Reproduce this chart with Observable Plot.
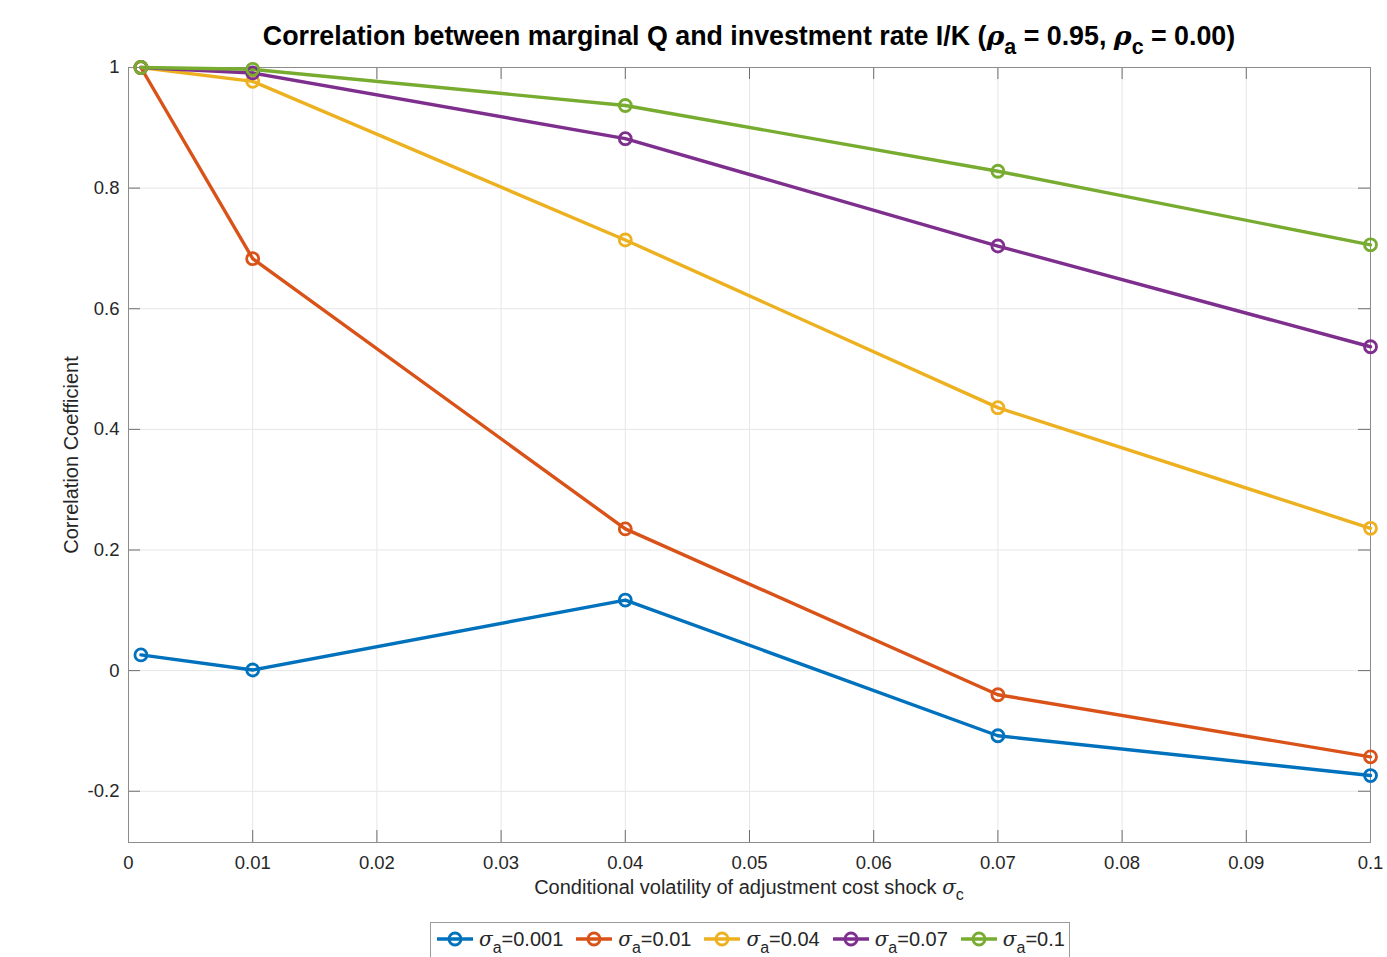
<!DOCTYPE html>
<html>
<head>
<meta charset="utf-8">
<script src="https://cdn.jsdelivr.net/npm/d3@7"></script>
<script src="https://cdn.jsdelivr.net/npm/@observablehq/plot@0.6"></script>
<style>
  html, body { margin: 0; padding: 0; background: #fff; }
  body { font-family: "Liberation Sans", Arial, Helvetica, sans-serif; color: #262626; }
  #wrap { position: relative; width: 1387px; height: 957px; overflow: hidden; }
  #title { position: absolute; left: 128px; width: 1242px; top: 20px; text-align: center; z-index: 2;
           font-weight: bold; font-size: 26.8px; line-height: 32px; color: #000; white-space: nowrap; }
  #chart { position: absolute; left: 0; top: 50px; z-index: 1; }
  #xlabel { position: absolute; left: 128px; width: 1242px; top: 875px; text-align: center;
            font-size: 20px; line-height: 24px; color: #262626; white-space: nowrap; }
  .g { font-family: "DejaVu Serif", "Liberation Serif", serif; font-style: italic; }
  .sb { position: relative; top: 0.4em; font-size: 0.8em; }
  #legend { position: absolute; left: 430px; top: 922px; height: 40px; border: 1px solid #9a9a9a;
            background: #fff; display: flex; align-items: flex-start; padding: 0 4px; box-sizing: border-box; }
  .item { display: flex; align-items: center; margin-right: 11px; height: 32px; font-size: 20px; white-space: nowrap; }
  .item:last-child { margin-right: 0; }
  .item svg { margin-right: 4px; }
  .item .sb { top: 0.45em; }
</style>
</head>
<body>
<div id="wrap">
  <div id="title">Correlation between marginal Q and investment rate I/K (<span class="g">ρ</span><span class="sb">a</span> = 0.95, <span class="g">ρ</span><span class="sb">c</span> = 0.00)</div>
  <div id="chart"></div>
  <div id="xlabel">Conditional volatility of adjustment cost shock <span class="g">σ</span><span class="sb">c</span></div>
  <div id="legend"></div>
</div>
<script>
// Conditional volatility of the adjustment cost shock (x axis)
const sigmaC = [0.001, 0.01, 0.04, 0.07, 0.1];

// Correlation between marginal Q and I/K, one series per productivity volatility sigma_a
const corrSigmaA0001 = [0.026, 0.001, 0.117, -0.108, -0.174];
const corrSigmaA001  = [1.000, 0.683, 0.235, -0.040, -0.143];
const corrSigmaA004  = [1.000, 0.977, 0.714, 0.436, 0.236];
const corrSigmaA007  = [1.000, 0.991, 0.882, 0.704, 0.537];
const corrSigmaA01   = [1.000, 0.997, 0.937, 0.828, 0.706];

const seriesLabels = ["0.001", "0.01", "0.04", "0.07", "0.1"];
const seriesColors = ["#0072BD", "#D95319", "#EDB120", "#7E2F8E", "#77AC30"];

const xTicks = [0, 0.01, 0.02, 0.03, 0.04, 0.05, 0.06, 0.07, 0.08, 0.09, 0.1];
const yTicks = [-0.2, 0, 0.2, 0.4, 0.6, 0.8, 1];

const allSeries = [corrSigmaA0001, corrSigmaA001, corrSigmaA004, corrSigmaA007, corrSigmaA01];
const rows = allSeries.flatMap((vals, s) =>
  vals.map((v, i) => ({x: sigmaC[i], y: v, series: seriesLabels[s]})));

const W = 1387, H = 825;
const mTop = 17, mBottom = 33, mLeft = 128, mRight = 17;
const innerH = H - mTop - mBottom;
const innerW = W - mLeft - mRight;
const tickLen = 12;
const fmt = d => String(+d.toFixed(2));

const chart = Plot.plot({
  width: W, height: H,
  marginTop: mTop, marginBottom: mBottom, marginLeft: mLeft, marginRight: mRight,
  style: {fontFamily: '"Liberation Sans", Arial, Helvetica, sans-serif', fontSize: "18px", color: "#262626", background: "transparent"},
  x: {domain: [0, 0.1]},
  y: {domain: [-0.285, 1]},
  color: {domain: seriesLabels, range: seriesColors},
  marks: [
    Plot.gridX(xTicks, {stroke: "#e6e6e6", strokeOpacity: 1}),
    Plot.gridY(yTicks, {stroke: "#e6e6e6", strokeOpacity: 1}),
    // inward ticks on all four sides
    Plot.ruleX(xTicks, {x: d => d, insetTop: innerH - tickLen, stroke: "#6e6e6e"}),
    Plot.ruleX(xTicks, {x: d => d, insetBottom: innerH - tickLen, stroke: "#6e6e6e"}),
    Plot.ruleY(yTicks, {y: d => d, insetRight: innerW - tickLen, stroke: "#6e6e6e"}),
    Plot.ruleY(yTicks, {y: d => d, insetLeft: innerW - tickLen, stroke: "#6e6e6e"}),
    Plot.frame({stroke: "#8c8c8c"}),
    Plot.axisX(xTicks, {tickSize: 0, tickPadding: 13, tickFormat: fmt, label: null, fill: "#262626", fontSize: 18.5}),
    Plot.axisY(yTicks, {tickSize: 0, tickPadding: 9, tickFormat: fmt, label: null, fill: "#262626", fontSize: 18.5}),
    Plot.text(["Correlation Coefficient"], {text: d => d, frameAnchor: "left", textAnchor: "middle", dx: -57, rotate: -90, fontSize: 20, fill: "#262626"}),
    Plot.line(rows, {x: "x", y: "y", z: "series", stroke: "series", strokeWidth: 3.4}),
    Plot.dot(rows, {x: "x", y: "y", stroke: "series", fill: "none", r: 6, strokeWidth: 2.8})
  ]
});
document.getElementById("chart").appendChild(chart);

// legend entries: line sample with open circle, then sigma_a label
const legend = document.getElementById("legend");
seriesLabels.forEach((lab, i) => {
  const item = document.createElement("div");
  item.className = "item";
  const c = seriesColors[i];
  item.innerHTML =
    `<svg width="40" height="20"><line x1="2" y1="10" x2="38" y2="10" stroke="${c}" stroke-width="3.4"/>` +
    `<circle cx="20" cy="10" r="6" fill="none" stroke="${c}" stroke-width="2.8"/></svg>` +
    `<span><span class="g">σ</span><span class="sb">a</span>=${lab}</span>`;
  legend.appendChild(item);
});
</script>
</body>
</html>
